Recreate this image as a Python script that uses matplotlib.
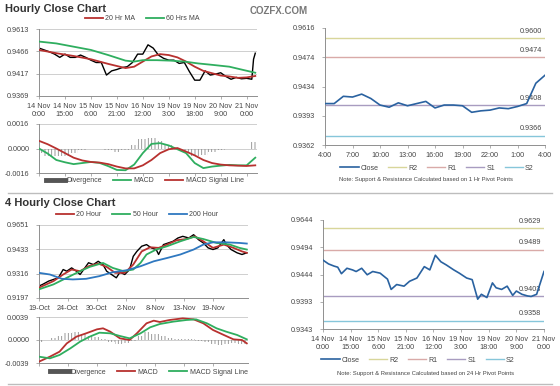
import numpy as np
import matplotlib
matplotlib.use('Agg')
import matplotlib.pyplot as plt
from matplotlib.lines import Line2D

plt.rcParams['font.family'] = ['Liberation Sans', 'DejaVu Sans']
plt.rcParams['hatch.linewidth'] = 0.6

# ---------------- data: hourly chart (top left) ----------------
hr_ticks = [0, 15, 30, 45, 60, 75, 90, 105, 120]
hr_tick_labels = ['14 Nov\n0:00', '14 Nov\n15:00', '15 Nov\n6:00', '15 Nov\n21:00', '16 Nov\n12:00',
                  '19 Nov\n3:00', '19 Nov\n18:00', '20 Nov\n9:00', '21 Nov\n0:00']
hr_hours = list(range(0, 124, 3)) + [124, 125]
hr_close = [0.9472, 0.9468, 0.9464, 0.9459, 0.9452, 0.9459, 0.9452, 0.9452, 0.9457, 0.9452,
            0.9446, 0.9441, 0.9441, 0.9414, 0.9423, 0.9426, 0.9430, 0.9432, 0.9441, 0.9459,
            0.9459, 0.9479, 0.9472, 0.9457, 0.9450, 0.9446, 0.9446, 0.9439, 0.9441, 0.9421,
            0.9403, 0.9403, 0.9423, 0.9414, 0.9416, 0.9419, 0.9411, 0.9405, 0.9409, 0.9406,
            0.9407, 0.9405, 0.9448, 0.9461]
ma20_hours = [0, 10, 20, 30, 40, 50, 55, 60, 65, 70, 75, 80, 85, 90, 95, 100, 105, 110, 115, 120, 125]
ma20_vals = [0.9468, 0.9461, 0.9455, 0.9448, 0.9438, 0.9429, 0.9432, 0.9443, 0.9454, 0.9459, 0.9457,
             0.9452, 0.9443, 0.9432, 0.9423, 0.9418, 0.9413, 0.9411, 0.9408, 0.9409, 0.9412]
ma60_hours = [0, 10, 20, 30, 40, 50, 55, 60, 68, 76, 84, 92, 100, 110, 118, 125]
ma60_vals = [0.9486, 0.9482, 0.9475, 0.9468, 0.9457, 0.9445, 0.9443, 0.9446, 0.9446, 0.9445,
             0.9443, 0.9439, 0.9436, 0.9432, 0.9425, 0.9419]
hr_ylabels = ['0.9369', '0.9417', '0.9466', '0.9613']

macd_hours = list(range(0, 126, 5))
macd1 = [0.0, -0.00033, -0.00075, -0.00090, -0.00102, -0.00095, -0.00088, -0.00094, -0.00115,
         -0.00140, -0.00142, -0.00105, -0.00030, 0.00030, 0.00035, 0.00020, -0.00005, -0.00030,
         -0.00095, -0.00128, -0.00118, -0.00112, -0.00107, -0.00110, -0.00110, -0.00060]
signal1 = [0.00050, 0.00028, 0.0, -0.00030, -0.00060, -0.00078, -0.00088, -0.00092, -0.00102,
           -0.00118, -0.00130, -0.00130, -0.00110, -0.00075, -0.00030, -0.00005, 0.00003, -0.00020,
           -0.00045, -0.00075, -0.00095, -0.00105, -0.00110, -0.00112, -0.00114, -0.00110]
div1 = [-0.0003, -0.0005, -0.0005, -0.0005, -0.0003, -0.0001, 0.0, 0.0, -0.0001, -0.0002, -0.0001,
        0.0002, 0.0006, 0.0007, 0.0005, 0.0002, -0.0001, -0.0002, -0.0005, -0.0004, -0.0002,
        -0.0001, 0.0, 0.0, 0.0, 0.0004]
macd1_ylabels = ['-0.0016', '0.0000', '0.0016']

# ---------------- data: 1 hr pivots (top right) ----------------
piv1_ticks = list(range(0, 25, 3))
piv1_tick_labels = ['4:00', '7:00', '10:00', '13:00', '16:00', '19:00', '22:00', '1:00', '4:00']
piv1_close = [0.9410, 0.9410, 0.9420, 0.9419, 0.9423, 0.9417, 0.9408, 0.9405, 0.9411, 0.9407,
              0.9410, 0.9413, 0.9404, 0.9408, 0.9408, 0.9407, 0.9398, 0.9400, 0.9401, 0.9404,
              0.9403, 0.9406, 0.9410, 0.9438, 0.9449]
piv1_levels = [0.9500, 0.9474, 0.9408, 0.9366]        # as drawn
piv1_level_labels = ['0.9600', '0.9474', '0.9408', '0.9366']
piv1_ylabels = ['0.9362', '0.9393', '0.9434', '0.9474', '0.9616']

# ---------------- data: 4 hourly chart (bottom left) ----------------
h4_ticks = [0, 24, 48, 72, 96, 120, 144]
h4_tick_labels = ['19-Oct', '24-Oct', '30-Oct', '2-Nov', '8-Nov', '13-Nov', '19-Nov']
h4_idx = [0, 3, 8, 12, 16, 20, 23, 27, 31, 34, 37, 41, 45, 49, 53, 56, 60, 64, 67, 71, 75, 78, 81,
          85, 89, 93, 97, 99, 103, 107, 111, 115, 119, 124, 128, 132, 136, 140, 144, 148, 153, 155,
          159, 164, 168, 172]
h4_close = [0.9255, 0.9263, 0.9279, 0.9287, 0.9295, 0.9335, 0.9327, 0.9343, 0.9327, 0.9311, 0.9335,
            0.9368, 0.9359, 0.9375, 0.9359, 0.9327, 0.9311, 0.9295, 0.9322, 0.9311, 0.9335, 0.9399,
            0.9423, 0.9448, 0.9456, 0.9440, 0.9432, 0.9408, 0.9456, 0.9464, 0.9472, 0.9488, 0.9496,
            0.9488, 0.9504, 0.9480, 0.9464, 0.9440, 0.9432, 0.9440, 0.9480, 0.9456, 0.9432, 0.9416,
            0.9408, 0.9416]
h20_idx = [0, 12, 20, 27, 34, 41, 49, 56, 63, 71, 78, 85, 92, 99, 106, 114, 122, 129, 136, 144,
           153, 161, 168, 172]
h20_vals = [0.9247, 0.9279, 0.9311, 0.9335, 0.9327, 0.9351, 0.9364, 0.9348, 0.9319, 0.9319, 0.9359,
            0.9423, 0.9443, 0.9440, 0.9456, 0.9477, 0.9483, 0.9496, 0.9472, 0.9440, 0.9456, 0.9440,
            0.9423, 0.9416]
h50_idx = [0, 12, 23, 34, 42, 53, 61, 70, 78, 84, 89, 97, 106, 117, 128, 136, 147, 158, 166, 172]
h50_vals = [0.9239, 0.9263, 0.9295, 0.9327, 0.9348, 0.9367, 0.9343, 0.9327, 0.9335, 0.9367, 0.9408,
            0.9432, 0.9448, 0.9472, 0.9493, 0.9483, 0.9464, 0.9456, 0.9440, 0.9432]
h200_idx = [0, 9, 19, 28, 39, 50, 61, 73, 84, 95, 106, 117, 128, 136, 144, 155, 166, 172]
h200_vals = [0.9319, 0.9311, 0.9290, 0.9287, 0.9290, 0.9303, 0.9322, 0.9332, 0.9351, 0.9375, 0.9391,
             0.9408, 0.9432, 0.9456, 0.9467, 0.9467, 0.9464, 0.9461]
h4_ylabels = ['0.9197', '0.9316', '0.9433', '0.9651']

macd2_idx = [0, 9, 17, 23, 31, 39, 48, 53, 59, 67, 75, 81, 89, 95, 100, 108, 119, 128, 136, 144,
             153, 161, 168, 172]
macd2 = [-0.00367, -0.00283, -0.00198, -0.00057, 0.00057, 0.00113, 0.00181, 0.00198, 0.00141,
         0.00028, 0.0, 0.00113, 0.00283, 0.00328, 0.00305, 0.00339, 0.00367, 0.00350, 0.00283,
         0.00170, 0.00085, 0.00011, 0.0, -0.00057]
signal2_idx = [0, 9, 17, 26, 34, 42, 50, 59, 67, 75, 84, 92, 100, 111, 122, 130, 139, 147, 155, 164, 172]
signal2 = [-0.00283, -0.00311, -0.00254, -0.00141, -0.00028, 0.00057, 0.00124, 0.00113, 0.00068,
           0.00028, 0.00113, 0.00215, 0.00271, 0.00311, 0.00339, 0.00350, 0.00283, 0.00198, 0.00141,
           0.00085, 0.00011]
div2_idx = list(range(0, 169, 6))
div2 = [-0.0003, 0.0, 0.0003, 0.0006, 0.0012, 0.0014, 0.0011, 0.0007, 0.0005, 0.0002, -0.0003,
        -0.0006, -0.0005, -0.0001, 0.0006, 0.0013, 0.0010, 0.0006, 0.0004, 0.0002, 0.0001, 0.0001,
        -0.0001, -0.0004, -0.0007, -0.0009, -0.0007, -0.0005, -0.0006]
macd2_ylabels = ['-0.0039', '0.0000', '0.0039']

# ---------------- data: 24 hr pivots (bottom right) ----------------
piv24_hours = [0, 3, 6, 8, 10, 13, 16, 18, 21, 24, 27, 31, 35, 37, 40, 44, 47, 51, 55, 58, 61, 64,
               67, 71, 74, 78, 81, 84, 86, 89, 92, 94, 97, 100, 103, 105, 108, 111, 113, 116, 118, 120]
piv24_close = [0.9470, 0.9463, 0.9459, 0.9457, 0.9445, 0.9455, 0.9452, 0.9449, 0.9455, 0.9443,
               0.9449, 0.9446, 0.9435, 0.9416, 0.9425, 0.9422, 0.9431, 0.9437, 0.9458, 0.9452,
               0.9479, 0.9467, 0.9461, 0.9452, 0.9446, 0.9437, 0.9434, 0.9398, 0.9407, 0.9401,
               0.9428, 0.9419, 0.9416, 0.9422, 0.9405, 0.9413, 0.9407, 0.9404, 0.9403, 0.9407,
               0.9428, 0.9449]
piv24_levels = [0.9529, 0.9489, 0.9403, 0.9358]       # as drawn
piv24_level_labels = ['0.9629', '0.9489', '0.9403', '0.9358']
piv24_ylabels = ['0.9343', '0.9393', '0.9444', '0.9494', '0.9644']

# ---------------- styling ----------------
W, H = 560, 386
RED, GREEN, BLUE = '#b8312f', '#2fae5f', '#2f78c0'
CLOSE_BLUE = '#2a62a0'
LEVEL_COLORS = ['#d8d69a', '#d9aaa8', '#a89cc0', '#86c6da']
TXT = '#454545'
AX = '#8f8f8f'
GRID = '#c8c8c8'

fig = plt.figure(figsize=(5.6, 3.86), dpi=100)
fig.patch.set_facecolor('white')


def px_axes(l, t, r, b):
    return fig.add_axes([l / W, 1 - b / H, (r - l) / W, (b - t) / H])


def style(ax, xlim, ylim, ylabels, xticks, xlabels=None):
    ax.set_xlim(*xlim)
    ax.set_ylim(*ylim)
    ax.set_yticks(np.linspace(ylim[0], ylim[1], len(ylabels)), ylabels)
    ax.set_xticks(xticks, xlabels if xlabels else [''] * len(xticks))
    for s in ['top', 'right']:
        ax.spines[s].set_visible(False)
    for s in ['left', 'bottom']:
        ax.spines[s].set_color(AX)
        ax.spines[s].set_linewidth(0.7)
    ax.grid(axis='y', color=GRID, lw=0.6)
    ax.set_axisbelow(True)
    ax.tick_params(labelsize=5.2, labelcolor=TXT, color=AX, length=2, width=0.5, pad=3)
    ax.tick_params(axis='y', pad=5)


def fig_legend(handles, labels, x, y, **kw):
    leg = fig.legend(handles, labels, loc='center', bbox_to_anchor=(x / W, 1 - y / H),
                     ncol=len(labels), frameon=False, fontsize=5, handlelength=kw.get('hl', 2.6),
                     handletextpad=0.3, columnspacing=kw.get('cs', 1.6), borderpad=0)
    for t in leg.get_texts():
        t.set_color(TXT)


def level_lines(ax, levels, labels, xmax):
    for lv, lab, c in zip(levels, labels, LEVEL_COLORS):
        ax.axhline(lv, color=c, lw=1.0, zorder=1)
        ax.annotate(lab, xy=(xmax, lv), xytext=(-2, 2.5), textcoords='offset points',
                    ha='right', va='bottom', fontsize=5.2, color=TXT)


# titles
fig.text(5 / W, 1 - 9 / H, 'Hourly Close Chart', fontsize=8, fontweight='bold', color='#333333', va='center')
fig.text(250 / W, 1 - 11 / H, 'COZFX.COM', fontsize=7, fontweight='bold', color='#777777', va='center')
fig.text(5 / W, 1 - 203 / H, '4 Hourly Close Chart', fontsize=8, fontweight='bold', color='#333333', va='center')
for yy in [193, 384]:
    fig.add_artist(Line2D([8 / W, 552 / W], [1 - yy / H] * 2, color='#bdbdbd', lw=1.0))

# --- top left price
ax1 = px_axes(39, 29, 257, 96)
style(ax1, (0, 126), (0.9369, 0.9513), hr_ylabels, hr_ticks, hr_tick_labels)
ax1.plot(hr_hours, hr_close, color='black', lw=1.0, zorder=2)
l20, = ax1.plot(ma20_hours, ma20_vals, color=RED, lw=1.3, zorder=3)
l60, = ax1.plot(ma60_hours, ma60_vals, color=GREEN, lw=1.3, zorder=3)
fig_legend([l20, l60], ['20 Hr MA', '60 Hrs MA'], 142, 19)

# --- top left MACD
ax2 = px_axes(39, 124, 257, 173)
style(ax2, (0, 126), (-0.0016, 0.0016), macd1_ylabels, hr_ticks)
bars = ax2.bar(macd_hours, div1, width=5, color='none', edgecolor='#8a8a8a', hatch='|||||', lw=0, zorder=1)
lm, = ax2.plot(macd_hours, macd1, color=GREEN, lw=1.3, zorder=3)
ls, = ax2.plot(macd_hours, signal1, color=RED, lw=1.3, zorder=3)
dh = Line2D([], [], color='#555555', lw=3.5)
fig_legend([dh, lm, ls], ['Divergence', 'MACD', 'MACD Signal Line'], 145, 181)

# --- top right pivots
ax3 = px_axes(325, 28, 545, 145)
style(ax3, (0, 24), (0.9353, 0.9514), piv1_ylabels, piv1_ticks, piv1_tick_labels)
ax3.grid(False)
level_lines(ax3, piv1_levels, piv1_level_labels, 24)
lc, = ax3.plot(range(len(piv1_close)), piv1_close, color=CLOSE_BLUE, lw=1.2, zorder=3)
lvl_handles = [Line2D([], [], color=c, lw=1.0) for c in LEVEL_COLORS]
fig_legend([lc] + lvl_handles, ['Close', 'R2', 'R1', 'S1', 'S2'], 437, 168, cs=1.4)
fig.text(426 / W, 1 - 179 / H, 'Note: Support & Resistance Calculated based on 1 Hr Pivot Points',
         fontsize=4.2, color=TXT, ha='center', va='center')

# --- bottom left price
ax4 = px_axes(39, 225, 248, 298)
style(ax4, (0, 173), (0.9197, 0.9551), h4_ylabels, h4_ticks, h4_tick_labels)
ax4.plot(h4_idx, h4_close, color='black', lw=1.0, zorder=2)
a, = ax4.plot(h20_idx, h20_vals, color=RED, lw=1.3, zorder=3)
b, = ax4.plot(h50_idx, h50_vals, color=GREEN, lw=1.3, zorder=3)
c, = ax4.plot(h200_idx, h200_vals, color=BLUE, lw=1.3, zorder=3)
fig_legend([a, b, c], ['20 Hour', '50 Hour', '200 Hour'], 137, 215)

# --- bottom left MACD
ax5 = px_axes(39, 317, 248, 363)
style(ax5, (0, 173), (-0.0039, 0.0039), macd2_ylabels, h4_ticks)
ax5.bar(div2_idx, div2, width=6, color='none', edgecolor='#8a8a8a', hatch='|||||', lw=0, zorder=1)
lm2, = ax5.plot(macd2_idx, macd2, color=RED, lw=1.3, zorder=3)
ls2, = ax5.plot(signal2_idx, signal2, color=GREEN, lw=1.3, zorder=3)
fig_legend([dh, lm2, ls2], ['Divergence', 'MACD', 'MACD Signal Line'], 149, 372)

# --- bottom right pivots
ax6 = px_axes(323, 220, 544, 329)
style(ax6, (0, 120), (0.9343, 0.9544), piv24_ylabels, hr_ticks, hr_tick_labels)
ax6.grid(False)
level_lines(ax6, piv24_levels, piv24_level_labels, 120)
lc2, = ax6.plot(piv24_hours, piv24_close, color=CLOSE_BLUE, lw=1.2, zorder=3)
fig_legend([lc2] + lvl_handles, ['Close', 'R2', 'R1', 'S1', 'S2'], 418, 360, cs=1.4)
fig.text(426 / W, 1 - 373 / H, 'Note: Support & Resistance Calculated based on 24 Hr Pivot Points',
         fontsize=4.2, color=TXT, ha='center', va='center')

fig.savefig('out.png', dpi=100, facecolor='white')
plt.close(fig)
